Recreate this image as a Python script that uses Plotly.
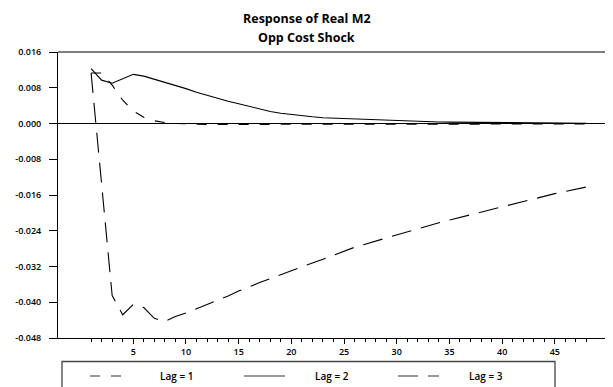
import plotly.graph_objects as go

horizons = list(range(1, 49))

lag1 = [0.0113, 0.0113, 0.0086, 0.0052, 0.0028, 0.0014, 0.0006, 0.0002, 0.0000, -0.0001,
        -0.0002, -0.0002, -0.0002, -0.0002, -0.0001, -0.0001, -0.0001, -0.0001, -0.0001, -0.0001,
        -0.0001, -0.0001, -0.0001, -0.0001, -0.0001, -0.0001, -0.0001, -0.0001, -0.0001, -0.0001,
        -0.0001, -0.0001, -0.0001, -0.0001, -0.0001, -0.0001, -0.0001, -0.0001, -0.0001, -0.0001,
        -0.0001, -0.0001, -0.0001, -0.0001, -0.0001, -0.0001, -0.0001, -0.0001]

lag2 = [0.0123, 0.0097, 0.0090, 0.0100, 0.0110, 0.0106, 0.0099, 0.0093, 0.0085, 0.0078,
        0.0070, 0.0063, 0.0057, 0.0050, 0.0044, 0.0038, 0.0032, 0.0027, 0.0023, 0.0020,
        0.0017, 0.0015, 0.0013, 0.0012, 0.0011, 0.0010, 0.0009, 0.0008, 0.0007, 0.0006,
        0.0005, 0.00045, 0.0004, 0.00035, 0.0003, 0.00027, 0.00024, 0.00021, 0.00019, 0.00017,
        0.00015, 0.00013, 0.00012, 0.0001, 0.00009, 0.00008, 0.00007, 0.00006]

lag3 = [0.0113, -0.0135, -0.0385, -0.0428, -0.0405, -0.0412, -0.0436, -0.0443, -0.0432, -0.0424,
        -0.0415, -0.0405, -0.0395, -0.0386, -0.0375, -0.0365, -0.0356, -0.0347, -0.0338, -0.0329,
        -0.0321, -0.0312, -0.0304, -0.0295, -0.0285, -0.0277, -0.0270, -0.0263, -0.0256, -0.0249,
        -0.0242, -0.0235, -0.0228, -0.0222, -0.0216, -0.0210, -0.0204, -0.0198, -0.0192, -0.0186,
        -0.0180, -0.0174, -0.0168, -0.0162, -0.0157, -0.0152, -0.0147, -0.0142]

series_names = ["Lag = 1", "Lag = 2", "Lag = 3"]
y_tickvals = [0.016, 0.008, 0.0, -0.008, -0.016, -0.024, -0.032, -0.040, -0.048]
y_ticktext = ["0.016", "0.008", "0.000", "-0.008", "-0.016", "-0.024", "-0.032", "-0.040", "-0.048"]
x_tickvals = [5, 10, 15, 20, 25, 30, 35, 40, 45]
x_ticktext = ["5", "10", "15", "20", "25", "30", "35", "40", "45"]
title_lines = ["Response of Real M2", "Opp Cost Shock"]

# page body has an 8px margin; lay the figure out in page pixels and shift
OFF = 8
PAGE_W, PAGE_H = 613, 387
W, H = PAGE_W - OFF, PAGE_H - OFF
L, T = 58 - OFF, 52 - OFF
R = 0
B = PAGE_H - 338
PW, PH = W - L - R, H - T - B

def px_x(p):
    return (p - OFF - L) / PW

def px_y(p):
    return (H - B - (p - OFF)) / PH

FONT = "Open Sans"
dash1 = "10px,11px"
dash3 = "20px,10px"

fig = go.Figure()
fig.add_trace(go.Scatter(x=horizons, y=lag1, mode="lines", name=series_names[0],
                         line=dict(color="black", width=1.1, dash=dash1)))
fig.add_trace(go.Scatter(x=horizons, y=lag2, mode="lines", name=series_names[1],
                         line=dict(color="black", width=1.1)))
fig.add_trace(go.Scatter(x=horizons, y=lag3, mode="lines", name=series_names[2],
                         line=dict(color="black", width=1.1, dash=dash3)))

shapes = []
shapes.append(dict(type="line", xref="paper", yref="paper", x0=0, x1=1, y0=1, y1=1,
                   line=dict(color="#555555", width=1.5)))
shapes.append(dict(type="rect", xref="paper", yref="paper",
                   x0=px_x(62), x1=px_x(555), y0=px_y(361.5), y1=px_y(400),
                   line=dict(color="#444444", width=1.3)))
samples = [(90, 121, dash1), (244, 285, "solid"), (398, 439, dash3)]
for (a, b, d) in samples:
    shapes.append(dict(type="line", xref="paper", yref="paper",
                       x0=px_x(a), x1=px_x(b), y0=px_y(376), y1=px_y(376),
                       line=dict(color="#777777", width=1.6, dash=d)))

annotations = []
for i, t in enumerate(title_lines):
    annotations.append(dict(text=t, xref="paper", yref="paper",
                            x=px_x(306.5), y=px_y([18.5, 37.5][i]), showarrow=False,
                            xanchor="center", yanchor="middle",
                            font=dict(family=FONT, size=12.5, color="black", weight=700)))
for (xc, t) in zip([158, 313, 467], series_names):
    annotations.append(dict(text=t, xref="paper", yref="paper", x=px_x(xc), y=px_y(376),
                            showarrow=False, xanchor="left", yanchor="middle",
                            font=dict(family=FONT, size=10, color="black", weight=600)))

fig.update_layout(
    width=W, height=H,
    margin=dict(l=L, r=R, t=T, b=B, pad=0),
    paper_bgcolor="white", plot_bgcolor="white",
    showlegend=False,
    shapes=shapes, annotations=annotations,
    font=dict(family=FONT, size=9, color="black", weight=600),
)
fig.update_xaxes(
    range=[-2.14, 50.52], showgrid=False, zeroline=False,
    showline=True, linecolor="black", linewidth=1,
    tickmode="array", tickvals=x_tickvals, ticktext=x_ticktext,
    ticks="outside", ticklen=5, tickwidth=1, tickcolor="black",
    tickfont=dict(family=FONT, size=9, weight=600),
    minor=dict(tickmode="array", tickvals=horizons, ticks="outside", ticklen=3,
               tickwidth=1, tickcolor="black", showgrid=False),
)
fig.update_yaxes(
    range=[-0.048, 0.016], showgrid=False,
    zeroline=True, zerolinecolor="black", zerolinewidth=1.3,
    showline=True, linecolor="black", linewidth=1,
    tickmode="array", tickvals=y_tickvals, ticktext=y_ticktext,
    ticks="outside", ticklen=8, tickwidth=1, tickcolor="black",
    ticklabelstandoff=6,
    tickfont=dict(family=FONT, size=9, weight=600),
)

fig.write_html("out.html")
